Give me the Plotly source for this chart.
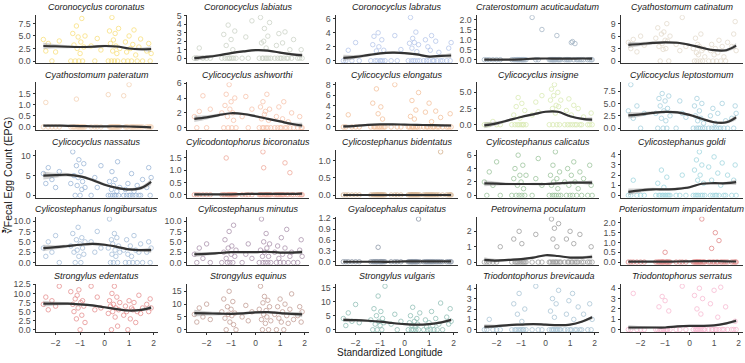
import plotly.graph_objects as go

W, H = 745, 363

species = ["Coronocyclus coronatus", "Coronocyclus labiatus", "Coronocyclus labratus",
           "Craterostomum acuticaudatum", "Cyathostomum catinatum",
           "Cyathostomum pateratum", "Cylicocyclus ashworthi", "Cylicocyclus elongatus",
           "Cylicocyclus insigne", "Cylicocyclus leptostomum",
           "Cylicocyclus nassatus", "Cylicodontophorus bicoronatus", "Cylicostephanus bidentatus",
           "Cylicostephanus calicatus", "Cylicostephanus goldi",
           "Cylicostephanus longibursatus", "Cylicostephanus minutus", "Gyalocephalus capitatus",
           "Petrovinema poculatum", "Poteriostomum imparidentatum",
           "Strongylus edentatus", "Strongylus equinus", "Strongylus vulgaris",
           "Triodontophorus brevicauda", "Triodontophorus serratus"]

colors = ["#F2C200", "#9AA890", "#6E8FD6", "#4F6E8E", "#C9B79C",
          "#E9A56B", "#F08A5D", "#E8853E", "#B5D56A", "#4FA3BF",
          "#3A6FB0", "#E0573A", "#A8641E", "#3D8B3D", "#45AFC0",
          "#4F7FB5", "#5B2C5E", "#1E3452", "#3F3F3F", "#C41414",
          "#D02828", "#8B4332", "#2A8472", "#5B8FB0", "#F27AA8"]

# standardized longitude of each sample
lon = [-2.5, -2.4, -2.3, -2.15, -2.0, -1.85,
       -1.38, -1.3, -1.25, -1.2, -1.15, -1.12, -1.08, -1.05, -1.0, -0.97, -0.93, -0.9, -0.85, -0.8,
       -0.55, -0.4, -0.3, -0.15,
       0.15, 0.2, 0.24, 0.28, 0.3, 0.33, 0.36, 0.4, 0.43, 0.46, 0.5, 0.53, 0.57, 0.62,
       0.78, 0.85, 0.9, 0.95, 1.0, 1.05, 1.1, 1.15, 1.2, 1.27, 1.33, 1.4, 1.47, 1.55,
       1.72, 1.8, 1.86, 1.9]

# cube-root fecal egg counts per species (aligned with lon)
coronatus = [4.3, 2.0, 3.5, 0, 1.8, 4.0,
             0, 5.5, 3.2, 0, 7.0, 2.5, 4.8, 0, 1.5, 3.8, 8.5, 0, 2.8, 5.0,
             3.0, 0, 4.5, 2.2,
             0, 6.0, 3.5, 0, 8.7, 2.0, 4.2, 0, 5.5, 3.0, 1.5, 0, 6.5, 2.5,
             0, 3.8, 1.8, 0, 5.0, 2.5, 0, 3.3, 6.2, 1.2, 0, 2.8, 4.4, 0,
             2.0, 3.5, 0, 1.5]
labiatus = [0, 0, 1.2, 0, 0, 0,
            0, 2.8, 0, 1.5, 0, 3.9, 0, 0, 2.2, 0, 1.0, 0, 3.2, 0,
            0, 2.5, 0, 4.4,
            0, 4.8, 1.8, 0, 0, 2.0, 3.5, 0, 1.2, 0, 2.6, 0, 4.2, 0,
            0, 1.5, 0, 2.9, 0, 0, 1.8, 0, 3.1, 0, 0, 1.0, 0, 2.2,
            0, 0, 1.0, 0]
labratus = [0, 0, 1.5, 0, 2.6, 0,
            0, 2.3, 3.5, 0, 1.4, 0, 4.0, 2.0, 0, 0, 3.0, 0, 1.5, 0,
            0, 3.6, 0, 1.6,
            0, 2.5, 6.2, 0, 1.8, 3.2, 0, 2.6, 0, 4.1, 1.3, 0, 2.3, 0,
            0, 3.0, 0, 2.0, 0, 1.5, 3.6, 0, 0, 2.8, 0, 1.2, 0, 0,
            0, 1.8, 0, 2.6]
acuticaudatum = [0, 0, 0, 0, 0, 0,
                 0, 0, 0, 0, 0, 0, 0, 0, 0, 0, 0, 0, 0, 0,
                 2.1, 0, 0, 1.5,
                 0, 0, 0, 0, 0, 0, 0, 0, 0, 1.2, 0, 0, 0, 0,
                 0, 0, 0, 0, 0, 0.85, 0.9, 0, 0.8, 0, 0, 0, 0, 0,
                 0, 0, 0, 0]
catinatum = [4.5, 3.0, 5.2, 2.2, 6.0, 3.8,
             5.5, 8.0, 3.5, 0, 6.5, 4.2, 2.8, 7.0, 5.0, 3.0, 9.0, 4.8, 0, 6.0,
             4.0, 2.5, 10.5, 3.5,
             3.0, 0, 5.5, 2.0, 0, 4.0, 1.5, 3.5, 0, 6.5, 2.5, 0, 3.0, 1.0,
             0, 2.5, 4.0, 0, 1.5, 3.0, 0, 2.0, 5.0, 0, 3.5, 1.0, 0, 4.5,
             3.5, 6.5, 9.5, 2.5]
pateratum = [0, 1.1, 0, 0, 0, 0,
             0, 0, 0, 0, 1.25, 0, 0, 0, 0, 0, 0, 0, 0, 0,
             0, 0, 0, 0,
             1.45, 0, 0, 0, 0, 0, 0, 0, 0, 0, 0, 0, 0, 0,
             1.4, 0, 0, 0, 1.9, 0, 0, 0, 0, 0, 0, 0, 0, 0,
             0, 0, 0, 0]
ashworthi = [1.5, 0, 2.2, 4.3, 0, 2.5,
             2.0, 0, 3.0, 4.5, 1.5, 0, 5.8, 2.5, 3.5, 0, 2.0, 1.0, 4.0, 0,
             1.5, 4.2, 0, 2.5,
             0, 2.8, 1.2, 0, 3.5, 0, 1.8, 2.2, 0, 4.5, 0, 1.0, 2.5, 0,
             0, 1.5, 0, 2.8, 0, 0, 1.2, 3.5, 0, 0, 0.8, 0, 2.0, 0,
             0, 1.5, 0, 0]
elongatus = [0, 0, 2.3, 0, 0, 0,
             0, 4.5, 0, 0, 7.2, 0, 2.5, 0, 0, 3.8, 0, 1.5, 0, 0,
             0, 8.0, 0, 0,
             0, 0, 2.0, 0, 5.0, 0, 0, 1.5, 0, 3.2, 0, 0, 6.5, 0,
             0, 2.8, 0, 0, 4.5, 0, 1.0, 0, 0, 3.0, 0, 0, 1.8, 0,
             0, 0, 2.5, 0]
insigne = [0, 0, 0, 0.5, 0, 0,
           0, 1.5, 0, 2.8, 0, 4.2, 0, 1.0, 0, 3.3, 0, 0, 2.2, 0,
           1.5, 3.5, 2.0, 4.5,
           0, 3.8, 5.5, 2.5, 0, 4.5, 6.2, 1.8, 3.0, 0, 5.0, 2.8, 0, 3.8,
           0, 2.2, 0, 4.0, 0, 1.5, 0, 3.0, 0, 0, 2.5, 0, 0, 1.2,
           0, 0, 1.8, 0]
leptostomum = [3.5, 8.8, 2.0, 4.5, 0, 3.0,
               3.0, 0, 6.0, 4.5, 2.0, 7.0, 0, 3.5, 5.5, 1.5, 0, 4.0, 6.5, 2.5,
               0, 5.5, 3.0, 2.2,
               0, 4.5, 2.5, 0, 6.0, 1.5, 0, 3.5, 0, 2.0, 5.0, 0, 1.0, 0,
               0, 2.5, 0, 4.0, 0, 1.0, 0, 3.0, 0, 0, 5.0, 0, 1.5, 0,
               2.0, 0, 4.5, 3.0]
nassatus = [5.5, 3.0, 7.0, 4.0, 2.0, 6.0,
            3.0, 11.0, 5.0, 0, 7.5, 2.5, 4.5, 9.0, 0, 6.0, 1.5, 3.5, 8.0, 2.0,
            0, 4.5, 2.0, 7.5,
            0, 3.5, 0, 1.5, 6.0, 0, 2.5, 0, 4.0, 0, 1.0, 8.5, 0, 2.0,
            0, 1.5, 0, 3.0, 0, 0, 5.5, 0, 1.0, 0, 2.5, 0, 0, 4.0,
            2.0, 7.0, 0, 4.5]
bicoronatus = [0, 0, 0, 0, 0, 0,
               0, 0, 0, 1.5, 0, 0, 0, 0, 0, 0, 0, 0, 0, 0,
               0, 0, 0, 0,
               0, 0, 0, 0, 1.75, 1.1, 0, 0, 0, 0, 0, 0, 0, 0,
               0, 0, 0, 0, 0, 0, 0, 0, 1.3, 0, 0, 0.9, 0, 0,
               0, 0, 0, 0]
bidentatus = [0, 0, 0, 0, 0, 0,
              0, 0, 0, 0, 0, 0, 0, 0, 0, 0, 0, 0, 0, 0,
              0, 0, 0, 0,
              0, 0, 0, 0, 0, 0, 0, 0, 0, 0, 0, 0, 0, 0,
              0, 0, 0, 0, 0, 0, 0, 0, 0, 0, 0, 0, 1.25, 0,
              0, 0, 0, 0]
calicatus = [2.0, 0, 3.5, 1.5, 5.0, 0,
             0, 2.5, 4.0, 0, 1.5, 6.0, 0, 3.0, 2.0, 0, 4.5, 1.0, 0, 3.0,
             0, 2.5, 5.5, 1.5,
             0, 3.0, 1.5, 0, 4.5, 2.0, 0, 6.5, 0, 2.5, 1.0, 0, 3.5, 0,
             2.0, 0, 4.0, 1.5, 0, 3.0, 0, 5.0, 2.0, 0, 1.0, 3.5, 0, 2.5,
             0, 4.5, 1.5, 0]
goldi = [0, 0, 1.5, 0, 0, 0,
         0, 1.2, 0, 0, 2.5, 0, 0, 0.8, 0, 0, 1.8, 0, 0, 0,
         0, 0, 2.0, 0,
         0, 2.5, 0, 3.5, 0, 1.5, 0, 4.3, 2.0, 0, 3.0, 0, 1.2, 0,
         2.8, 0, 1.5, 0, 3.8, 0, 0, 2.2, 0, 1.0, 3.2, 0, 0, 2.0,
         0, 1.5, 3.0, 0]
longibursatus = [3.5, 1.5, 5.0, 2.5, 6.5, 0,
                 4.0, 7.0, 2.5, 0, 5.5, 3.0, 8.5, 1.5, 4.5, 0, 6.0, 3.5, 2.0, 5.0,
                 5.0, 2.5, 7.5, 3.5,
                 3.5, 10.5, 0, 5.5, 2.0, 4.5, 0, 7.0, 3.0, 1.5, 6.0, 0, 4.0, 2.5,
                 3.0, 0, 5.5, 2.0, 0, 4.0, 1.5, 0, 6.5, 3.0, 0, 2.5, 4.5, 0,
                 2.5, 5.0, 0, 3.5]
minutus = [2.0, 0, 3.5, 1.0, 4.5, 0,
           0, 2.5, 5.5, 1.0, 0, 3.5, 7.5, 0, 2.0, 4.0, 0, 9.0, 1.5, 3.0,
           0, 2.0, 4.5, 1.0,
           0, 3.0, 10.5, 1.5, 0, 5.0, 2.5, 0, 7.0, 3.5, 0, 1.5, 4.5, 0,
           2.5, 0, 4.0, 1.0, 0, 6.0, 2.0, 0, 3.5, 8.0, 0, 1.5, 2.5, 0,
           0, 3.0, 5.5, 1.5]
capitatus = [0, 0, 0, 0, 0, 0,
             0, 0, 0, 0, 0, 0, 0.4, 0, 0, 0, 0, 0, 0, 0,
             0, 0, 0, 0,
             0, 0, 0, 0, 0, 0, 0, 0, 0, 0, 0, 0, 1.18, 0,
             0, 0, 0, 0, 0, 0, 0, 0, 0, 0, 0, 0, 0, 0,
             0, 0, 0, 0]
poculatum = [0, 0, 0, 0, 0, 1.0,
             0, 1.5, 0, 0, 0, 0, 2.0, 0, 0, 1.2, 0, 0, 0, 0,
             0, 1.8, 0, 0,
             0, 0, 2.8, 0, 1.5, 0, 2.2, 0, 0, 1.0, 0, 2.5, 0, 0,
             0, 1.5, 0, 0, 2.0, 0, 0, 1.2, 0, 0, 0, 1.8, 0, 0,
             0, 0, 1.0, 0]
imparidentatum = [0, 0, 0, 0, 0, 0,
                  0, 0, 0, 0, 0, 0, 0, 0, 0.5, 0, 0, 0, 0, 0,
                  0, 0, 0, 0,
                  0, 0, 0, 0, 0, 0, 0, 0, 0, 0, 2.2, 0, 0, 0,
                  0, 0, 0.7, 0, 0, 1.5, 0, 0, 1.1, 0, 0, 0, 0, 0,
                  0, 0, 0, 0]
edentatus = [7.0, 9.0, 5.5, 8.0, 6.5, 12.0,
             10.5, 7.0, 5.0, 8.5, 3.0, 9.5, 6.0, 11.0, 0, 7.5, 4.0, 8.0, 6.5, 2.0,
             12.0, 5.5, 9.0, 6.0,
             4.5, 8.0, 6.5, 0, 10.0, 5.0, 7.0, 12.0, 3.5, 6.0, 9.0, 1.0, 5.5, 7.5,
             4.0, 6.5, 5.0, 0, 8.0, 3.0, 6.0, 5.5, 7.5, 2.0, 5.0, 9.5, 4.5, 6.0,
             7.0, 5.0, 8.5, 6.0]
equinus = [6.0, 3.0, 8.5, 5.0, 10.0, 4.0,
           7.0, 12.0, 4.5, 0, 9.0, 6.0, 15.0, 3.0, 8.0, 5.5, 11.0, 2.0, 6.5, 0,
           5.0, 9.5, 3.5, 7.0,
           8.0, 17.0, 4.0, 0, 10.5, 6.0, 13.0, 2.5, 7.5, 5.0, 11.5, 0, 9.0, 3.5,
           6.0, 0, 9.0, 4.5, 12.0, 3.0, 7.0, 0, 10.0, 5.5, 2.5, 8.0, 14.0, 4.0,
           5.5, 9.0, 3.0, 7.0]
vulgaris = [4.0, 1.5, 6.0, 3.0, 9.0, 2.5,
            3.5, 0, 7.5, 2.0, 5.0, 0, 12.0, 3.0, 1.5, 6.5, 0, 4.0, 2.5, 15.5,
            2.0, 5.5, 0, 3.0,
            0, 2.5, 5.0, 0, 1.5, 8.0, 0, 3.0, 1.0, 0, 4.0, 2.0, 0, 6.0,
            0, 3.5, 1.0, 0, 2.5, 0, 6.5, 1.5, 0, 4.0, 0, 2.0, 9.5, 0,
            4.5, 2.0, 7.5, 3.0]
brevicauda = [0, 0, 1.0, 0, 0, 0,
              0, 2.5, 0, 0, 1.5, 0, 3.5, 0, 0, 0.8, 0, 0, 2.0, 0,
              0, 4.2, 0, 0,
              0, 1.8, 0, 3.0, 0, 0, 1.2, 0, 2.5, 0, 0, 3.8, 0, 0,
              0, 1.5, 0, 2.8, 0, 0, 3.5, 1.0, 0, 0, 2.2, 0, 0, 1.5,
              0, 2.5, 0, 1.0]
serratus = [0, 0, 3.5, 0, 0, 0,
            0, 0, 2.2, 0, 0, 3.2, 0, 0, 2.8, 0, 0, 0, 1.8, 0,
            0, 0, 4.2, 0,
            0, 3.3, 0, 0, 2.0, 0, 0, 4.0, 0, 1.5, 0, 3.0, 0, 0,
            0, 2.5, 0, 0, 3.8, 0, 0, 1.2, 0, 4.1, 0, 0, 2.2, 0,
            0, 0, 0.8, 0]

counts = [coronatus, labiatus, labratus, acuticaudatum, catinatum,
          pateratum, ashworthi, elongatus, insigne, leptostomum,
          nassatus, bicoronatus, bidentatus, calicatus, goldi,
          longibursatus, minutus, capitatus, poculatum, imparidentatum,
          edentatus, equinus, vulgaris, brevicauda, serratus]

# loess fit at these longitudes
fit_x = [-2.5, -2.0, -1.5, -1.0, -0.5, 0.0, 0.5, 1.0, 1.5, 1.9]
loess_fit = [
    [3.0, 2.95, 2.85, 2.8, 2.85, 3.0, 2.9, 2.5, 2.35, 2.4],
    [0.0, 0.15, 0.35, 0.6, 0.8, 0.95, 0.9, 0.65, 0.45, 0.35],
    [0.4, 0.55, 0.8, 1.05, 1.15, 1.1, 0.9, 0.6, 0.7, 0.75],
    [0.0, 0.0, 0.0, 0.02, 0.05, 0.06, 0.05, 0.05, 0.06, 0.05],
    [3.9, 4.1, 4.35, 4.5, 4.4, 3.9, 3.2, 2.6, 2.6, 3.7],
    [0.06, 0.06, 0.05, 0.04, 0.03, 0.03, 0.03, 0.02, 0.0, -0.02],
    [1.2, 1.4, 1.7, 1.95, 1.85, 1.55, 1.2, 0.85, 0.5, 0.3],
    [0.1, 0.2, 0.4, 0.5, 0.5, 0.45, 0.4, 0.35, 0.3, 0.28],
    [-0.1, 0.2, 0.7, 1.2, 1.6, 2.0, 2.0, 1.3, 0.9, 0.8],
    [2.6, 2.8, 3.1, 3.3, 3.2, 2.7, 1.9, 1.2, 1.2, 2.2],
    [5.0, 5.1, 5.2, 4.8, 3.9, 2.7, 1.9, 1.5, 1.9, 3.4],
    [0.02, 0.02, 0.02, 0.02, 0.03, 0.04, 0.04, 0.04, 0.04, 0.05],
    [0.0, 0.0, 0.0, 0.0, 0.0, 0.0, 0.0, 0.0, 0.0, 0.0],
    [1.8, 1.75, 1.7, 1.7, 1.7, 1.7, 1.8, 1.9, 1.9, 1.9],
    [0.35, 0.5, 0.6, 0.6, 0.65, 0.8, 1.15, 1.2, 1.2, 1.3],
    [3.5, 3.7, 4.0, 4.3, 4.5, 4.3, 3.8, 3.2, 3.0, 3.0],
    [2.0, 2.1, 2.3, 2.5, 2.5, 2.5, 2.6, 2.4, 2.4, 2.5],
    [0.0, 0.0, 0.0, 0.0, 0.0, 0.01, 0.01, 0.01, 0.01, 0.01],
    [0.15, 0.1, 0.15, 0.2, 0.3, 0.45, 0.4, 0.3, 0.3, 0.35],
    [0.02, 0.02, 0.02, 0.02, 0.03, 0.04, 0.05, 0.05, 0.04, 0.03],
    [7.2, 7.2, 7.2, 7.0, 6.7, 6.2, 5.7, 5.3, 5.5, 6.1],
    [6.5, 6.4, 6.3, 6.2, 6.4, 6.8, 6.9, 6.5, 6.2, 6.0],
    [3.5, 3.4, 3.2, 2.9, 2.4, 2.0, 1.8, 2.0, 2.6, 3.5],
    [0.3, 0.35, 0.45, 0.5, 0.55, 0.5, 0.45, 0.5, 0.8, 1.2],
    [0.2, 0.2, 0.2, 0.2, 0.3, 0.35, 0.35, 0.4, 0.6, 0.85],
]
# half-width of the confidence ribbon
band_se = [0.3, 0.15, 0.2, 0.03, 0.35, 0.02, 0.2, 0.15, 0.2, 0.3,
           0.45, 0.02, 0.005, 0.2, 0.15, 0.35, 0.3, 0.01, 0.08, 0.02,
           0.35, 0.6, 0.35, 0.1, 0.1]
band_shape = [2.2, 1.4, 1.0, 0.7, 0.9, 0.8, 0.7, 0.7, 1.0, 1.8]

y_tick_step = [2.5, 1, 2, 0.5, 3,
               0.5, 2, 2, 2.5, 2.5,
               5, 0.5, 0.5, 2, 1,
               2.5, 2.5, 0.3, 1, 0.5,
               2.5, 5, 5, 1, 1]
x_ticks = [-2, -1, 0, 1, 2]

for arr in counts:
    assert len(arr) == len(lon), len(arr)

# ---- layout geometry (pixels) ----
col_left = [36, 187, 336, 477, 621]
panel_w = 122
row_bottom = [59.5, 128.2, 196.9, 265.6, 334.3]
panel_h = 49
FONT = "Liberation Sans, Arial, sans-serif"

fig = go.Figure()
layout = {}
annotations = []
for i, name in enumerate(species):
    r, c = divmod(i, 5)
    suf = "" if i == 0 else str(i + 1)
    xa, ya = "x" + suf, "y" + suf
    ys = counts[i]
    fit = loess_fit[i]
    hw = [band_se[i] * s for s in band_shape]
    upper = [f + h for f, h in zip(fit, hw)]
    lower = [f - h for f, h in zip(fit, hw)]

    fig.add_trace(go.Scatter(x=lon, y=ys, mode="markers", xaxis=xa, yaxis=ya,
                             marker=dict(symbol="circle-open", size=4.5, color=colors[i],
                                         line=dict(width=0.8, color=colors[i])),
                             opacity=0.5, hoverinfo="skip", showlegend=False))
    fig.add_trace(go.Scatter(x=fit_x, y=lower, mode="lines", xaxis=xa, yaxis=ya,
                             line=dict(width=0, shape="spline"), hoverinfo="skip",
                             showlegend=False))
    fig.add_trace(go.Scatter(x=fit_x, y=upper, mode="lines", xaxis=xa, yaxis=ya,
                             fill="tonexty", fillcolor="rgba(150,150,150,0.45)",
                             line=dict(width=0, shape="spline"), hoverinfo="skip",
                             showlegend=False))
    fig.add_trace(go.Scatter(x=fit_x, y=fit, mode="lines", xaxis=xa, yaxis=ya,
                             line=dict(width=2.2, color="#333333", shape="spline"),
                             hoverinfo="skip", showlegend=False))

    lo = min(0, min(lower))
    hi = max(max(ys), max(upper))
    pad = 0.05 * (hi - lo)
    step = y_tick_step[i]
    fmt = "d" if float(step).is_integer() else ".1f"

    x0 = col_left[c] / W
    x1 = (col_left[c] + panel_w) / W
    y0 = 1 - row_bottom[r] / H
    y1 = 1 - (row_bottom[r] - panel_h) / H
    bottom_row = (r == 4)
    layout["xaxis" + suf] = dict(domain=[x0, x1], anchor=ya, range=[-2.8, 2.18],
                                 showgrid=False, zeroline=False, showline=True,
                                 linecolor="#333333", linewidth=1,
                                 tickvals=x_ticks, showticklabels=bottom_row,
                                 ticks="outside" if bottom_row else "", ticklen=2.5,
                                 tickcolor="#333333",
                                 tickfont=dict(size=8.5, color="#4d4d4d", family=FONT))
    layout["yaxis" + suf] = dict(domain=[y0, y1], anchor=xa, range=[lo - pad, hi + pad],
                                 showgrid=False, zeroline=False, showline=True,
                                 linecolor="#333333", linewidth=1,
                                 tick0=0, dtick=step, tickformat=fmt,
                                 ticks="outside", ticklen=2.5, tickcolor="#333333",
                                 tickfont=dict(size=8.8, color="#4d4d4d", family=FONT))
    annotations.append(dict(text="<i>" + name + "</i>", xref="paper", yref="paper",
                            x=(x0 + x1) / 2, y=1 - (row_bottom[r] - panel_h - 8) / H,
                            xanchor="center", yanchor="middle", showarrow=False,
                            font=dict(size=9, color="#1a1a1a", family=FONT)))

annotations.append(dict(text="Standardized Longitude", xref="paper", yref="paper",
                        x=(36 + 743) / 2 / W, y=0, xanchor="center",
                        yanchor="bottom", showarrow=False,
                        font=dict(size=10, color="#1a1a1a", family=FONT)))
annotations.append(dict(text="\u221bFecal Egg Count (EPG)", xref="paper", yref="paper",
                        x=8 / W, y=1 - 175 / H, xanchor="center", yanchor="middle",
                        textangle=-90, showarrow=False,
                        font=dict(size=10.5, color="#1a1a1a", family=FONT)))

fig.update_layout(width=W, height=H, margin=dict(l=0, r=0, t=0, b=0),
                  paper_bgcolor="white", plot_bgcolor="white",
                  font=dict(family=FONT), annotations=annotations, **layout)
fig.write_html("out.html", config={"displayModeBar": False},
               post_script="document.body.style.margin='0';document.body.style.overflow='hidden';")
